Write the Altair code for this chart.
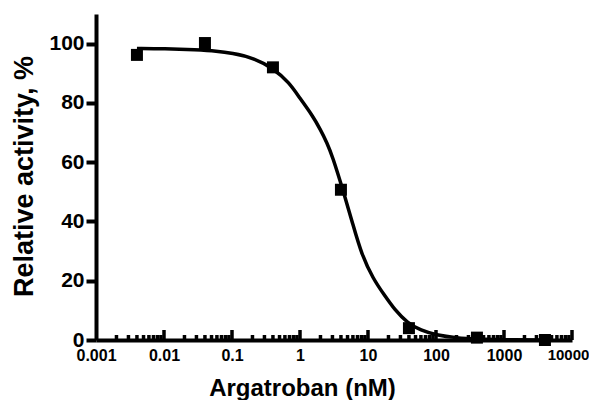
import altair as alt
import pandas as pd

# Measured data points (Argatroban nM, relative activity %)
conc = [0.004, 0.04, 0.4, 4, 40, 400, 4000]
activity = [96.2, 100.2, 92.0, 50.7, 4.0, 0.8, 0.0]

# Fitted curve
curve_x = [0.004, 0.01, 0.03, 0.06, 0.1, 0.2, 0.4, 0.7, 1.0, 1.5, 2.0, 2.5, 3.0,
           4.3, 6.0, 8.0, 12, 17, 25, 38, 60, 100, 200, 400, 1000, 4000]
curve_y = [98.4, 98.3, 97.9, 97.5, 96.8, 95.3, 91.8, 86.8, 81.5, 76.0, 71.0, 66.5,
           62.0, 50.5, 39.0, 29.0, 20.5, 15.5, 10.0, 5.8, 3.2, 1.7, 0.7, 0.3, 0.1, 0.0]

# Axis ticks
x_ticks = [0.001, 0.01, 0.1, 1, 10, 100, 1000, 10000]
major_ticks = [0.01, 0.1, 1, 10, 100, 1000, 10000]
decades = [0.001, 0.01, 0.1, 1, 10, 100, 1000]
multipliers = [2, 3, 4, 5, 6, 7, 8, 9]
minor_ticks = [d * m for d in decades for m in multipliers]
y_ticks = [0, 20, 40, 60, 80, 100]

W, H = 476, 326
FONT = "Liberation Sans"

pts = pd.DataFrame({"x": conc, "y": activity})
crv = pd.DataFrame({"x": curve_x, "y": curve_y})
minor = pd.DataFrame({"x": minor_ticks})
major = pd.DataFrame({"x": major_ticks})

xscale = alt.Scale(type="log", domain=[0.001, 10000], nice=False)
yscale = alt.Scale(domain=[0, 110], nice=False, zero=True)

xaxis = alt.Axis(
    values=x_ticks, format="~g", grid=False, ticks=False, tickSize=0,
    domainColor="black", domainWidth=4,
    labelFont=FONT, labelFontWeight="bold", labelColor="black",
    labelFontSize={"condition": {"test": "datum.value >= 9999", "value": 15}, "value": 16},
    labelOffset={"condition": {"test": "datum.value >= 9999", "value": -4}, "value": 0},
    labelPadding=7, labelFlush=False, labelOverlap=False,
    title="Argatroban (nM)", titleFont=FONT, titleFontWeight="bold",
    titleFontSize=24, titleColor="black", titleX=206, titleY=55,
    titleAlign="center", titleBaseline="alphabetic",
)
yaxis = alt.Axis(
    values=y_ticks, grid=False, tickSize=10, tickWidth=4, tickColor="black",
    domainColor="black", domainWidth=4,
    labelFont=FONT, labelFontWeight="bold", labelFontSize=21, labelColor="black",
    labelPadding=2, labelBaseline="middle",
    title="Relative activity, %", titleFont=FONT, titleFontWeight="bold",
    titleFontSize=27, titleColor="black", titleX=-64, titleY=162,
    titleAlign="center", titleBaseline="alphabetic", titleAngle=270,
)

minor_layer = alt.Chart(minor).mark_rule(color="black", strokeWidth=3.5).encode(
    x=alt.X("x:Q", scale=xscale, axis=xaxis),
    y=alt.value(H),
    y2=alt.value(H - 5),
)
major_layer = alt.Chart(major).mark_rule(color="black", strokeWidth=3.5).encode(
    x=alt.X("x:Q", scale=xscale),
    y=alt.value(H),
    y2=alt.value(H - 10),
)
curve_layer = alt.Chart(crv).mark_line(
    color="black", strokeWidth=3.5, interpolate="basis"
).encode(
    x=alt.X("x:Q", scale=xscale),
    y=alt.Y("y:Q", scale=yscale, axis=yaxis),
)
pts_layer = alt.Chart(pts).mark_square(color="black", size=144, opacity=1).encode(
    x=alt.X("x:Q", scale=xscale),
    y=alt.Y("y:Q", scale=yscale),
)

chart = alt.layer(minor_layer, major_layer, curve_layer, pts_layer).properties(
    width=W, height=H,
    autosize=alt.AutoSizeParams(type="none"),
    padding={"left": 88, "top": 6, "right": 17, "bottom": 60},
    background="white",
).configure_view(stroke=None)

chart.save("out.html", embed_options={"renderer": "svg", "actions": False})
